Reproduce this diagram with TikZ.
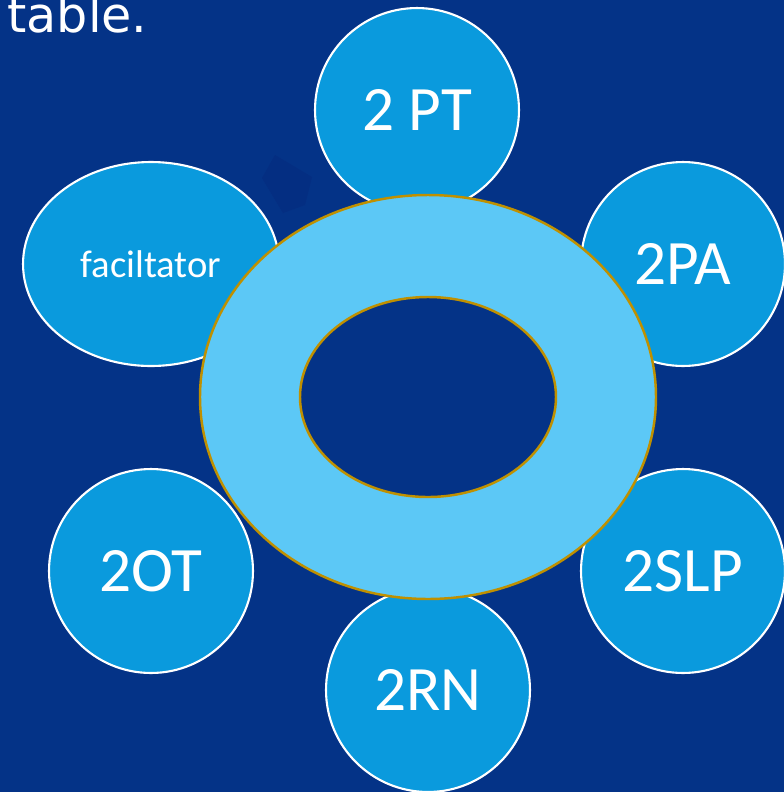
\documentclass[tikz,border=0pt]{standalone}
\usepackage{fontspec}
\setmainfont{Carlito}
\newfontfamily\titlefont{DejaVu Sans}
\usetikzlibrary{shapes.geometric}
\definecolor{bgblue}{HTML}{043387}
\definecolor{darkarrow}{HTML}{042E82}
\definecolor{discblue}{HTML}{0A9ADD}
\definecolor{ringblue}{HTML}{5CC8F6}
\definecolor{ringgold}{HTML}{BF9000}
\begin{document}
\begin{tikzpicture}
	[x=0.02cm,y=-0.02cm,
	%%%%%%%%%%%%%%%%%%%%%%%%%%%%%%
	disc/.style={circle,draw=white,line width=1.2pt,fill=discblue,minimum size=4.08cm,
		text=white,font=\fontsize{36}{40}\selectfont},
	ringline/.style={ringgold,line width=1.4pt},
	]%%%%%%%%%%%%%%%%%%%%%%%%%%%%%%
	
	\useasboundingbox (0,0) rectangle (784,792);
	\clip (0,0) rectangle (784,792);
	\fill[bgblue] (0,0) rectangle (784,792);
	
	\node[text=white,anchor=base west,inner sep=0pt,font=\titlefont\fontsize{28}{32}\selectfont] (title) at (7,32) {table.};
	
	\fill[darkarrow] (275,155) -- (312,177) -- (305,205) -- (283,213) -- (262,178) -- cycle;
	
	\node[disc] (pt) at (417,110) {2 PT};
	\node[disc] (pa) at (683,264) {2PA};
	\node[ellipse,draw=white,line width=1.2pt,fill=discblue,minimum width=5.12cm,minimum height=4.08cm,
		text=white,font=\fontsize{22}{24}\selectfont] (fac) at (151,264) {faciltator};
	\node[disc] (ot) at (151,571) {2OT};
	\node[disc] (slp) at (683,571) {2SLP};
	\node[disc] (rn) at (428,690) {2RN};
	
	% ring
	\coordinate (ring) at (428,397);
	\fill[ringblue,even odd rule] (ring) ellipse [x radius=228, y radius=202]
		(ring) ellipse [x radius=128, y radius=100];
	\draw[ringline] (ring) ellipse [x radius=228, y radius=202];
	\draw[ringline] (ring) ellipse [x radius=128, y radius=100];
	
\end{tikzpicture}
\end{document}
